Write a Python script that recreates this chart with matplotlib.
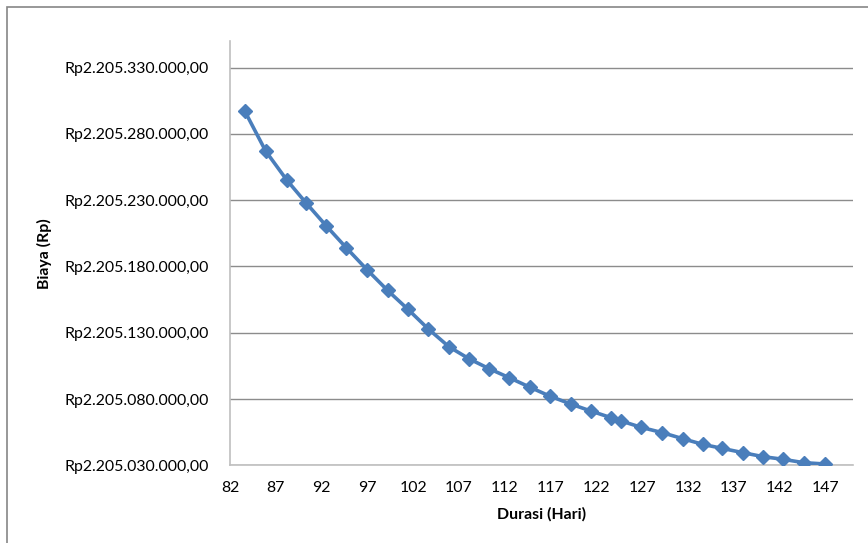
import matplotlib.pyplot as plt
from matplotlib.patches import Rectangle
from matplotlib.ticker import FuncFormatter

plt.rcParams.update({
    "font.family": ["Lato", "DejaVu Sans"],
    "font.size": 11.4,
})

# Durasi (hari) vs total biaya proyek
durasi = [83.6, 85.9, 88.2, 90.3, 92.5, 94.7, 97.0, 99.2, 101.4, 103.6,
          105.9, 108.1, 110.3, 112.5, 114.7, 116.9, 119.2, 121.4, 123.6, 124.7,
          126.9, 129.2, 131.4, 133.6, 135.7, 138.0, 140.2, 142.4, 144.6, 146.9]
biaya = [2205297300, 2205266900, 2205245100, 2205227900, 2205210600,
         2205194000, 2205177200, 2205161900, 2205147800, 2205133100,
         2205119400, 2205110300, 2205102800, 2205096000, 2205089000,
         2205082200, 2205076200, 2205070900, 2205065900, 2205063400,
         2205058600, 2205054600, 2205050100, 2205045800, 2205042800,
         2205039500, 2205036500, 2205034500, 2205032000, 2205031000]
x_ticks = list(range(82, 148, 5))
y_ticks = list(range(2205030000, 2205330001, 50000))


def rupiah(v, pos):
    s = f"{v:,.2f}"
    s = s.replace(",", "_").replace(".", ",").replace("_", ".")
    return "Rp" + s


fig = plt.figure(figsize=(8.68, 5.43), dpi=100)
# outer chart frame, running off the right and bottom edges
fig.patches.append(Rectangle((7 / 868, -0.1), 1.2, 1 - 7 / 543 + 0.1,
                             transform=fig.transFigure, fill=False,
                             edgecolor="#868686", linewidth=1.2))

ax = fig.add_axes([230 / 868, 1 - 465.3 / 543, 623 / 868, 424.3 / 543])
ax.plot(durasi, biaya, color="#4a7ebb", linewidth=2.6, marker="D",
        markersize=7.5, markeredgecolor="#4a7ebb", zorder=3)

ax.set_xlim(82, 150)
ax.set_ylim(2205030000, 2205350000)
ax.set_xticks(x_ticks)
ax.set_yticks(y_ticks)
ax.yaxis.set_major_formatter(FuncFormatter(rupiah))
ax.tick_params(axis="x", length=0, pad=11)
ax.tick_params(axis="y", length=0, pad=15)

ax.grid(axis="y", color="#8c8c8c", linewidth=1.0)
ax.set_axisbelow(True)
for side in ("top", "right"):
    ax.spines[side].set_visible(False)
for side in ("left", "bottom"):
    ax.spines[side].set_color("#bfbfbf")
    ax.spines[side].set_linewidth(1.2)

ax.set_xlabel("Durasi (Hari)", fontweight="bold", labelpad=9)
ax.set_ylabel("Biaya (Rp)", fontweight="bold")
ax.yaxis.set_label_coords((52 - 230) / 623, 0.5)

fig.savefig("out.png", dpi=100)
plt.close(fig)
